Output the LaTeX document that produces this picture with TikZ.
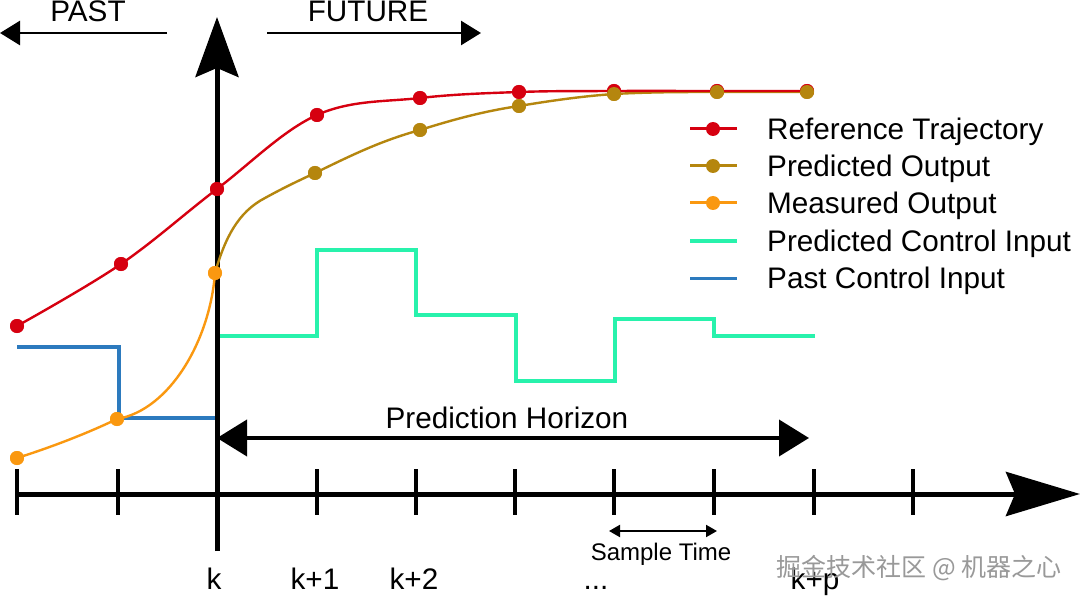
\documentclass[tikz,border=0pt]{standalone}
\usepackage{fontspec}
\setmainfont{Liberation Sans}
\newfontfamily\cjk{Noto Sans CJK SC}
\usetikzlibrary{arrows.meta}
\definecolor{refred}{RGB}{214,0,16}
\definecolor{predbrown}{RGB}{181,134,14}
\definecolor{measorange}{RGB}{250,152,16}
\definecolor{predcyan}{RGB}{40,242,172}
\definecolor{pastblue}{RGB}{44,122,190}
\begin{document}
\begin{tikzpicture}[x=1pt,y=-1pt,
  every node/.style={inner sep=0pt},
  lbl/.style={font=\fontsize{29.7}{34}\selectfont, anchor=base},
  dotr/.style={circle, fill=refred, minimum size=14pt},
  dotb/.style={circle, fill=predbrown, minimum size=14pt},
  doto/.style={circle, fill=measorange, minimum size=14pt},
  axisline/.style={line width=5pt},
  tickline/.style={line width=4pt},
  curve/.style={line width=2.4pt},
  stepline/.style={line width=4pt, line join=miter}]
\useasboundingbox (0,0) rectangle (1080,599);
\fill[white] (0,0) rectangle (1080,599);

% ---- time axis and ticks
\coordinate (xs) at (15,494);
\coordinate (xe) at (1080,494);
\draw[axisline, -{Stealth[length=74pt, width=44pt, inset=9pt]}] (xs) -- (xe);
\foreach \x in {17,118,317,416,515,614,714,814,913}
  \draw[tickline] (\x,469) -- (\x,515);

% ---- control inputs
\draw[stepline, pastblue] (17,347) -- (119,347) -- (119,418) -- (217,418) -- (217,336);
\draw[stepline, predcyan] (217,336) -- (317,336) -- (317,250) -- (416,250) -- (416,315)
  -- (516,315) -- (516,381) -- (615,381) -- (615,319) -- (714,319) -- (714,336) -- (815,336);

% ---- vertical axis
\coordinate (ys) at (217,551);
\coordinate (ye) at (217,17);
\draw[axisline, -{Stealth[length=60pt, width=43pt, inset=9pt]}] (ys) -- (ye);

% ---- points
\node[doto] (m1) at (17,458) {};
\node[doto] (m2) at (117,419) {};
\node[dotb] (b1) at (315,173) {};
\node[dotb] (b2) at (420,130) {};
\node[dotb] (b3) at (519,106) {};
\node[dotr] (r1) at (17,326) {};
\node[dotr] (r2) at (121,264) {};
\node[dotr] (r3) at (217,189) {};
\node[dotr] (r4) at (317,115) {};
\node[dotr] (r5) at (420,98) {};
\node[dotr] (r6) at (519,92) {};
\node[dotr] (r7) at (614,91) {};
\node[dotb] (b4) at (614,94) {};
\node[dotr] (r8) at (717,91) {};
\node[dotb] (b5) at (717,92) {};
\node[dotr] (r9) at (807,91) {};
\node[dotb] (b6) at (807,92) {};
\node[doto] (m3) at (215,273) {};

% ---- curves
\draw[curve, measorange] (m1.center) .. controls (55,446) and (90,432) .. (m2.center)
  .. controls (170,410) and (210,340) .. (m3.center);
\draw[curve, predbrown] (m3.center) .. controls (225,238) and (238,212) .. (265,198)
  .. controls (285,187) and (298,181) .. (b1.center)
  .. controls (350,156) and (380,141) .. (b2.center)
  .. controls (455,119) and (485,111) .. (b3.center)
  .. controls (555,100) and (585,96) .. (b4.center)
  .. controls (650,92) and (685,92) .. (b5.center) -- (b6.center);
\draw[curve, refred, smooth, tension=0.6] plot coordinates {(r1) (r2) (r3) (r4) (r5) (r6) (r7) (r8) (r9)};
% redraw dots on top
\foreach \n/\c in {m1/measorange,m2/measorange,m3/measorange,b1/predbrown,b2/predbrown,b3/predbrown,r1/refred,r2/refred,r3/refred,r4/refred,r5/refred,r6/refred,r7/refred,b4/predbrown,r8/refred,b5/predbrown,r9/refred,b6/predbrown}
  \fill[\c] (\n) circle (7pt);

% ---- past / future arrows
\node[lbl] (past) at (88,22) {PAST};
\node[lbl] (future) at (368,22) {FUTURE};
\coordinate (pa1) at (167,33);
\coordinate (pa2) at (0,33);
\coordinate (fa1) at (267,33);
\coordinate (fa2) at (481,33);
\draw[line width=2.6pt, -{Triangle[length=20pt, width=24pt]}] (pa1) -- (pa2);
\draw[line width=2.6pt, -{Triangle[length=20pt, width=24pt]}] (fa1) -- (fa2);

% ---- prediction horizon
\coordinate (ph1) at (217,438);
\coordinate (ph2) at (809,438);
\draw[line width=4pt, {Triangle[length=30pt, width=36pt]}-{Triangle[length=30pt, width=36pt]}] (ph1) -- (ph2);
\node[lbl] (phl) at (507,428) {Prediction Horizon};

% ---- sample time
\coordinate (st1) at (609,531);
\coordinate (st2) at (717,531);
\draw[line width=2pt, {Triangle[length=11pt, width=12pt]}-{Triangle[length=11pt, width=12pt]}] (st1) -- (st2);
\node[font=\fontsize{24}{28}\selectfont, anchor=base] (stl) at (661,560) {Sample Time};

% ---- tick labels
\node[lbl] (lk) at (214,589) {k};
\node[lbl] (lk1) at (315,589) {k+1};
\node[lbl] (lk2) at (414,589) {k+2};
\node[lbl] (ldots) at (596,589) {...};
\node[lbl] (lkp) at (815,589) {k+p};

% ---- legend
\foreach \y/\c/\t/\d in {129/refred/Reference Trajectory/1, 166/predbrown/Predicted Output/1, 203/measorange/Measured Output/1, 241/predcyan/Predicted Control Input/0, 278/pastblue/Past Control Input/0}{
  \draw[\c, line width=3pt] (690,\y) -- (737,\y);
  \ifnum\d=1 \fill[\c] (713,\y) circle (7pt); \fi
  \node[lbl, anchor=base west] at (767,\y+10.5) {\t};
}

% ---- watermark
\node[font=\cjk\fontsize{25}{28}\selectfont, text=black!40, anchor=center] (wm) at (919,568) {掘金技术社区 @ 机器之心};
\end{tikzpicture}
\end{document}
